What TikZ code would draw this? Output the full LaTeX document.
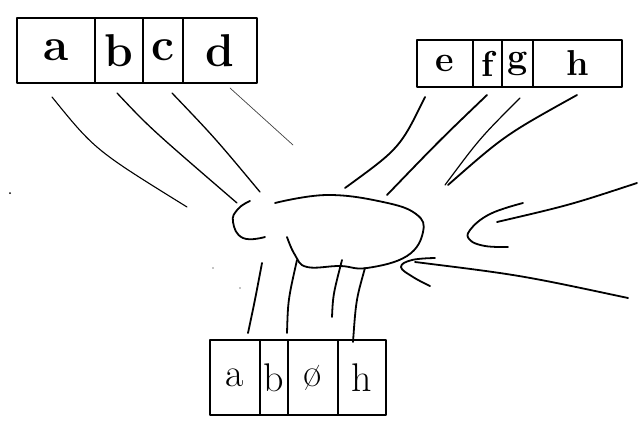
\documentclass[tikz,border=0pt]{standalone}
\begin{document}
\begin{tikzpicture}[x=1pt,y=-1pt,line cap=round,line join=round,
  ink/.style={line width=1.8pt},
  faint/.style={line width=0.7pt,black!75},
  cellbox/.style={draw,line width=1.8pt,inner sep=0pt},
  bigtxt/.style={font=\fontsize{46}{46}\selectfont\bfseries},
  midtxt/.style={font=\fontsize{36}{36}\selectfont\bfseries},
  lowtxt/.style={font=\fontsize{40}{40}\selectfont}]
\useasboundingbox (0,0) rectangle (639,444);
% top-left array
\node[cellbox,bigtxt,minimum width=78pt,minimum height=65pt] (ta) at (56,50.5) {a};
\node[cellbox,bigtxt,minimum width=48pt,minimum height=65pt] (tb) at (119,50.5) {b};
\node[cellbox,bigtxt,minimum width=40pt,minimum height=65pt] (tc) at (163,50.5) {c};
\node[cellbox,bigtxt,minimum width=74pt,minimum height=65pt] (td) at (220,50.5) {d};
% top-right array
\node[cellbox,midtxt,minimum width=56pt,minimum height=47pt] (re) at (445,63.5) {e};
\node[cellbox,midtxt,minimum width=29pt,minimum height=47pt] (rf) at (487.5,63.5) {f};
\node[cellbox,midtxt,minimum width=31pt,minimum height=47pt] (rg) at (517.5,63.5) {g};
\node[cellbox,midtxt,minimum width=89pt,minimum height=47pt] (rh) at (577.5,63.5) {h};
% bottom array
\node[cellbox,lowtxt,minimum width=50pt,minimum height=75pt] (ba) at (235,377.5) {a};
\node[cellbox,lowtxt,minimum width=28pt,minimum height=75pt] (bb) at (274,377.5) {b};
\node[cellbox,lowtxt,minimum width=50pt,minimum height=75pt] (bo) at (313,377.5) {ø};
\node[cellbox,lowtxt,minimum width=48pt,minimum height=75pt] (bh) at (362,377.5) {h};
% connector end points
\coordinate (l1s) at (52,97);  \coordinate (l1e) at (187,207);
\coordinate (l2s) at (117,93); \coordinate (l2e) at (237,203);
\coordinate (l3s) at (172,93); \coordinate (l3e) at (260,192);
\coordinate (l4s) at (230,88); \coordinate (l4e) at (293,145);
\coordinate (r1s) at (425,97); \coordinate (r1e) at (345,188);
\coordinate (r2s) at (487,95); \coordinate (r2e) at (387,195);
\coordinate (r3s) at (520,98); \coordinate (r3e) at (445,185);
\coordinate (r4s) at (577,95); \coordinate (r4e) at (448,185);
\coordinate (d1s) at (262,263); \coordinate (d1e) at (248,333);
\coordinate (d2s) at (297,260); \coordinate (d2e) at (287,333);
\coordinate (d3s) at (342,260); \coordinate (d3e) at (332,317);
\coordinate (d4s) at (365,268); \coordinate (d4e) at (353,342);
% lines from top-left array
\draw[ink,line width=1.1pt] (l1s) .. controls (95,150) .. (l1e);
\draw[ink,line width=1.3pt] (l2s) .. controls (150,128) .. (l2e);
\draw[ink,line width=1.3pt] (l3s) .. controls (215,138) .. (l3e);
\draw[faint] (l4s) -- (l4e);
% lines from top-right array
\draw[ink] (r1s) .. controls (400,148) .. (r1e);
\draw[ink] (r2s) .. controls (440,140) .. (r2e);
\draw[ink,line width=1.2pt] (r3s) .. controls (480,138) .. (r3e);
\draw[ink] (r4s) .. controls (505,135) .. (r4e);
% blob
\draw[ink] plot[smooth,tension=0.7] coordinates {(275,203) (327,195) (383,202) (416,214) (423,232) (407,256) (367,268) (340,266) (307,267) (295,255) (287,237)};
\draw[ink] plot[smooth,tension=0.8] coordinates {(250,201) (238,209) (233,222) (243,238) (265,237)};
% lines below the blob
\draw[ink] (d1s) .. controls (255,300) .. (d1e);
\draw[ink] (d2s) .. controls (288,300) .. (d2e);
\draw[ink] (d3s) .. controls (333,295) .. (d3e);
\draw[ink] (d4s) .. controls (356,300) .. (d4e);
% arrows from the right
\coordinate (a1s) at (637,183); \coordinate (a1e) at (497,222);
\draw[ink] (a1s) .. controls (570,205) .. (a1e);
\draw[ink] plot[smooth,tension=0.7] coordinates {(523,203) (490,214) (470,230) (470,240) (485,246) (508,247)};
\coordinate (a2s) at (628,298); \coordinate (a2e) at (415,262);
\draw[ink] (a2s) .. controls (520,275) .. (a2e);
\draw[ink] plot[smooth,tension=0.7] coordinates {(435,258) (412,260) (401,267) (413,277) (430,286)};
% speckles
\fill (10,193) circle (1pt);
\fill (213,268) circle (0.7pt);
\fill (240,288) circle (0.6pt);
\end{tikzpicture}
\end{document}
